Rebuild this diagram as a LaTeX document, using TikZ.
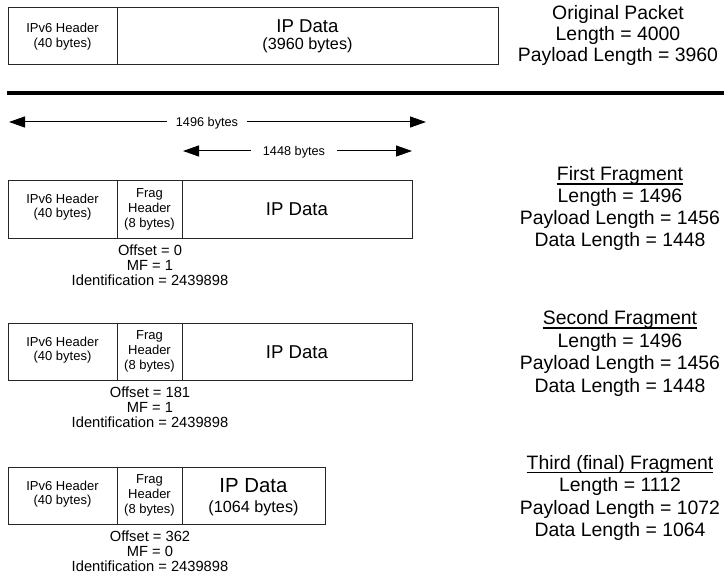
\documentclass[tikz,border=0pt]{standalone}
\usepackage{fontspec}
\setmainfont{Liberation Sans}
\usetikzlibrary{arrows.meta,calc}
\begin{document}
\begin{tikzpicture}[x=1pt,y=-1pt,
 cell/.style={draw=black!85,line width=1pt,inner sep=0pt,anchor=north west},
 hdr/.style={inner sep=0pt,font=\fontsize{13}{15}\selectfont,text height=9.3pt,text depth=0pt},
 dat/.style={inner sep=0pt,font=\fontsize{18.6}{20}\selectfont,text height=13.3pt,text depth=0pt},
 datb/.style={inner sep=0pt,font=\fontsize{20.4}{22}\selectfont,text height=14.6pt,text depth=0pt},
 byt/.style={inner sep=0pt,font=\fontsize{16.2}{18}\selectfont,text height=11.6pt,text depth=0pt},
 bel/.style={inner sep=0pt,font=\fontsize{14.7}{16}\selectfont,text height=10.5pt,text depth=0pt},
 rgt/.style={inner sep=0pt,font=\fontsize{19.4}{22}\selectfont,text height=13.9pt,text depth=0pt},
 arl/.style={inner ysep=0pt,font=\fontsize{12.7}{14}\selectfont,text height=9.1pt,text depth=0pt},
 arr/.style={line width=1pt,-{Triangle[length=16pt,width=11pt]}},
 ul/.style={line width=1.2pt}
]
\useasboundingbox (0,0) rectangle (724,577);

% ---------- original packet ----------
\node[cell,minimum width=109pt,minimum height=57pt] (h0) at (8,7) {};
\node[cell,minimum width=381pt,minimum height=57pt] (d0) at (117,7) {};
\node[hdr] (h0a) at (62.5,28) {IPv6 Header};
\node[hdr] (h0b) at (62.5,43) {(40 bytes)};
\node[dat] (d0a) at (307.5,26) {IP Data};
\node[byt] (d0b) at (307.5,44) {(3960 bytes)};
\node[rgt] (o1) at (618,13) {Original Packet};
\node[rgt] (o2) at (618,34) {Length = 4000};
\node[rgt] (o3) at (618,55) {Payload Length = 3960};

% ---------- separator ----------
\coordinate (s1) at (7,93);
\coordinate (s2) at (724,93);
\draw[line width=3.6pt] (s1) -- (s2);

% ---------- dimension arrows ----------
\node[arl,inner xsep=9pt] (l1496) at (207,122) {1496 bytes};
\coordinate (e1l) at (9,122);
\coordinate (e1r) at (426,122);
\draw[arr] (l1496) -- (e1l);
\draw[arr] (l1496) -- (e1r);
\node[arl,inner xsep=12pt] (l1448) at (294,151) {1448 bytes};
\coordinate (e2l) at (183,151);
\coordinate (e2r) at (412,151);
\draw[arr] (l1448) -- (e2l);
\draw[arr] (l1448) -- (e2r);

% ---------- first fragment ----------
\node[cell,minimum width=109pt,minimum height=58pt] (h1) at (8,180) {};
\node[cell,minimum width=65pt,minimum height=58pt] (f1) at (117,180) {};
\node[cell,minimum width=230pt,minimum height=58pt] (d1) at (182,180) {};
\node[hdr] (h1a) at (62.5,199) {IPv6 Header};
\node[hdr] (h1b) at (62.5,213) {(40 bytes)};
\node[hdr] (f1a) at (149.5,192.5) {Frag};
\node[hdr] (f1b) at (149.5,207.5) {Header};
\node[hdr] (f1c) at (149.5,222.5) {(8 bytes)};
\node[dat] (d1a) at (297,209) {IP Data};
\node[bel] (b1a) at (150,250.5) {Offset = 0};
\node[bel] (b1b) at (150,265.5) {MF = 1};
\node[bel] (b1c) at (150,280.5) {Identification = 2439898};
\node[rgt] (r1a) at (620,174) {First Fragment};
\node[rgt] (r1b) at (620,196) {Length = 1496};
\node[rgt] (r1c) at (620,218) {Payload Length = 1456};
\node[rgt] (r1d) at (620,240) {Data Length = 1448};
\draw[ul] ($(r1a.base west)+(0,3)$) -- ($(r1a.base east)+(0,3)$);

% ---------- second fragment ----------
\node[cell,minimum width=109pt,minimum height=57pt] (h2) at (8,323) {};
\node[cell,minimum width=65pt,minimum height=57pt] (f2) at (117,323) {};
\node[cell,minimum width=230pt,minimum height=57pt] (d2) at (182,323) {};
\node[hdr] (h2a) at (62.5,341.5) {IPv6 Header};
\node[hdr] (h2b) at (62.5,355.5) {(40 bytes)};
\node[hdr] (f2a) at (149.5,335) {Frag};
\node[hdr] (f2b) at (149.5,350) {Header};
\node[hdr] (f2c) at (149.5,365) {(8 bytes)};
\node[dat] (d2a) at (297,351.5) {IP Data};
\node[bel] (b2a) at (150,392.5) {Offset = 181};
\node[bel] (b2b) at (150,407.5) {MF = 1};
\node[bel] (b2c) at (150,422.5) {Identification = 2439898};
\node[rgt] (r2a) at (620,318) {Second Fragment};
\node[rgt] (r2b) at (620,340.5) {Length = 1496};
\node[rgt] (r2c) at (620,363) {Payload Length = 1456};
\node[rgt] (r2d) at (620,385.5) {Data Length = 1448};
\draw[ul] ($(r2a.base west)+(0,3)$) -- ($(r2a.base east)+(0,3)$);

% ---------- third fragment ----------
\node[cell,minimum width=109pt,minimum height=57pt] (h3) at (8,467) {};
\node[cell,minimum width=65pt,minimum height=57pt] (f3) at (117,467) {};
\node[cell,minimum width=143pt,minimum height=57pt] (d3) at (182,467) {};
\node[hdr] (h3a) at (62.5,485.5) {IPv6 Header};
\node[hdr] (h3b) at (62.5,499.5) {(40 bytes)};
\node[hdr] (f3a) at (149.5,479) {Frag};
\node[hdr] (f3b) at (149.5,494) {Header};
\node[hdr] (f3c) at (149.5,509) {(8 bytes)};
\node[datb] (d3a) at (253.5,485) {IP Data};
\node[byt] (d3b) at (253.5,507) {(1064 bytes)};
\node[bel] (b3a) at (150,536.5) {Offset = 362};
\node[bel] (b3b) at (150,551.5) {MF = 0};
\node[bel] (b3c) at (150,566.5) {Identification = 2439898};
\node[rgt] (r3a) at (620,462.5) {Third (final) Fragment};
\node[rgt] (r3b) at (620,485) {Length = 1112};
\node[rgt] (r3c) at (620,507.5) {Payload Length = 1072};
\node[rgt] (r3d) at (620,530) {Data Length = 1064};
\draw[ul] ($(r3a.base west)+(0,3)$) -- ($(r3a.base east)+(0,3)$);
\end{tikzpicture}
\end{document}
